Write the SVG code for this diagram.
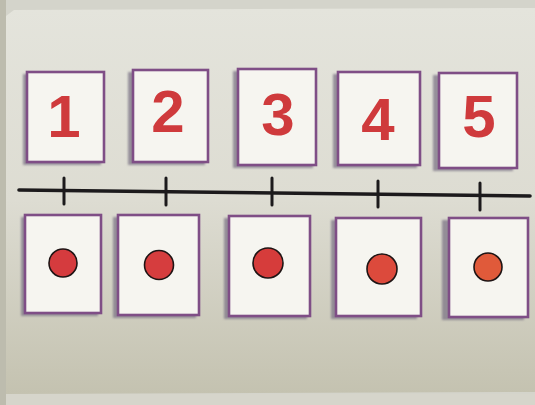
<svg xmlns="http://www.w3.org/2000/svg" width="535" height="405" viewBox="0 0 535 405">
<defs>
<linearGradient id="board" x1="0" y1="0" x2="0" y2="1">
<stop offset="0" stop-color="#e4e4dc"/>
<stop offset="0.5" stop-color="#dddcd2"/>
<stop offset="1" stop-color="#c4c2b0"/>
</linearGradient>
<filter id="blur" x="-20%" y="-20%" width="140%" height="140%"><feGaussianBlur stdDeviation="1.3"/></filter>
<style>
.shadow{fill:#7d7486;opacity:.75;filter:url(#blur)}
.card{fill:#f6f5f0;stroke:#7f4e86;stroke-width:2.6}
.num{font-family:"Liberation Sans",Arial,sans-serif;font-weight:bold;font-size:60px;fill:#cf3a3c;text-anchor:middle}
.dot{stroke:#1e1414;stroke-width:1.6}
.line{stroke:#1c1a1c;stroke-width:3.6;stroke-linecap:round;fill:none}
.tick{stroke:#1c1a1c;stroke-width:3;stroke-linecap:round}
</style>
</defs>
<rect x="0" y="0" width="535" height="405" fill="#d4d4cb"/>
<rect x="0" y="0" width="6" height="405" fill="#bdbcae"/>
<polygon points="14,10 535,8 535,392 6,394 6,16" fill="url(#board)"/>
<rect x="6" y="394" width="529" height="11" fill="#d6d5cb"/>

<g id="card-1">
<rect class="shadow" x="23" y="74" width="78" height="91"/>
<rect class="card" x="27" y="72" width="77" height="90"/>
<text class="num" x="64" y="137">1</text>
</g>
<g id="card-2">
<rect class="shadow" x="128" y="72" width="77" height="93"/>
<rect class="card" x="133" y="70" width="75" height="92"/>
<text class="num" x="168" y="132">2</text>
</g>
<g id="card-3">
<rect class="shadow" x="233" y="71" width="80" height="97"/>
<rect class="card" x="238" y="69" width="78" height="96"/>
<text class="num" x="278" y="135">3</text>
</g>
<g id="card-4">
<rect class="shadow" x="333" y="74" width="84" height="94"/>
<rect class="card" x="338" y="72" width="82" height="93"/>
<text class="num" x="378" y="140">4</text>
</g>
<g id="card-5">
<rect class="shadow" x="433" y="75" width="80" height="96"/>
<rect class="card" x="439" y="73" width="78" height="95"/>
<text class="num" x="479" y="137">5</text>
</g>

<g id="number-line">
<path class="line" d="M19,190 L530,196"/>
<line class="tick" x1="64" y1="178" x2="64" y2="204"/>
<line class="tick" x1="166" y1="178" x2="166" y2="205"/>
<line class="tick" x1="272" y1="178" x2="272" y2="205"/>
<line class="tick" x1="378" y1="181" x2="378" y2="207"/>
<line class="tick" x1="480" y1="183" x2="480" y2="210"/>
</g>

<g id="dot-card-1">
<rect class="shadow" x="21" y="217" width="77" height="99"/>
<rect class="card" x="25" y="215" width="76" height="98"/>
<circle class="dot" cx="63" cy="263" r="14" fill="#d53b3e"/>
</g>
<g id="dot-card-2">
<rect class="shadow" x="113" y="217" width="83" height="101"/>
<rect class="card" x="118" y="215" width="81" height="100"/>
<circle class="dot" cx="159" cy="265" r="14.5" fill="#d63d3e"/>
</g>
<g id="dot-card-3">
<rect class="shadow" x="224" y="218" width="83" height="101"/>
<rect class="card" x="229" y="216" width="81" height="100"/>
<circle class="dot" cx="268" cy="263" r="15" fill="#d63c3b"/>
</g>
<g id="dot-card-4">
<rect class="shadow" x="331" y="220" width="86" height="99"/>
<rect class="card" x="336" y="218" width="85" height="98"/>
<circle class="dot" cx="382" cy="269" r="15" fill="#dc4a3c"/>
</g>
<g id="dot-card-5">
<rect class="shadow" x="442" y="220" width="82" height="100"/>
<rect class="card" x="449" y="218" width="79" height="99"/>
<circle class="dot" cx="488" cy="267" r="14" fill="#e05a3a"/>
</g>
</svg>
